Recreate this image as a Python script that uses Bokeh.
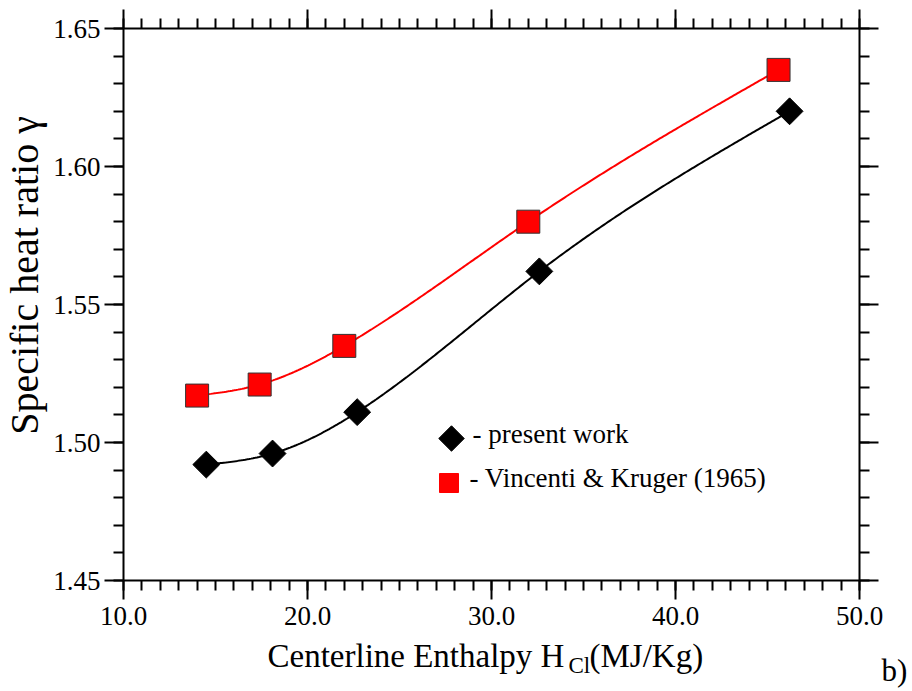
import math
import numpy as np
from bokeh.plotting import figure
from bokeh.models import Range1d, LinearAxis, FixedTicker, PrintfTickFormatter
from bokeh.core.properties import value
from bokeh.embed import file_html
from bokeh.resources import INLINE

# ---- data ----
present_h = [14.5, 18.1, 22.7, 32.6, 46.2]
present_gamma = [1.492, 1.496, 1.511, 1.562, 1.620]
vk_h = [14.0, 17.4, 22.0, 32.0, 45.6]
vk_gamma = [1.517, 1.521, 1.535, 1.580, 1.635]

x_major = [10.0, 20.0, 30.0, 40.0, 50.0]
x_minor = [float(v) for v in range(10, 51)]
y_major = [1.45, 1.50, 1.55, 1.60, 1.65]
y_minor = [round(1.45 + 0.01 * i, 2) for i in range(21)]

x_title = ["Centerline Enthalpy H", "Cl", "(MJ/Kg)"]
y_title = "Specific heat ratio γ"
legend_labels = ["- present work", "- Vincenti & Kruger (1965)"]
panel_tag = "b)"

SERIF = "Liberation Serif"
W, H = 912, 691
# plot box in canvas pixels
BOX_L, BOX_R, BOX_T, BOX_B = 123, 859, 28, 580
X0, X1, Y0, Y1 = 10.0, 50.0, 1.45, 1.65
KX = (BOX_R - BOX_L) / (X1 - X0)
KY = (BOX_B - BOX_T) / (Y1 - Y0)
SHIFT = 12  # baseline correction of the text glyph, px


def px_x(px):
    return X0 + (px - BOX_L) / KX


def px_y(py):
    return Y1 - (py - BOX_T) / KY


def smooth(x, y, n=300):
    """Natural cubic spline drawn through the data points (for the smooth line)."""
    x = np.asarray(x, float)
    y = np.asarray(y, float)
    k = len(x)
    h = np.diff(x)
    A = np.zeros((k, k))
    b = np.zeros(k)
    A[0, 0] = 1.0
    A[-1, -1] = 1.0
    for i in range(1, k - 1):
        A[i, i - 1] = h[i - 1]
        A[i, i] = 2 * (h[i - 1] + h[i])
        A[i, i + 1] = h[i]
        b[i] = 6 * ((y[i + 1] - y[i]) / h[i] - (y[i] - y[i - 1]) / h[i - 1])
    M = np.linalg.solve(A, b)
    xs = np.linspace(x[0], x[-1], n)
    idx = np.clip(np.searchsorted(x, xs) - 1, 0, k - 2)
    x0 = x[idx]
    x1 = x[idx + 1]
    hh = x1 - x0
    a = (x1 - xs) / hh
    bb = (xs - x0) / hh
    ys = a * y[idx] + bb * y[idx + 1] + ((a ** 3 - a) * M[idx] + (bb ** 3 - bb) * M[idx + 1]) * hh ** 2 / 6
    return xs, ys


# The frame spans the whole canvas; the four axes sit at fixed data locations
p = figure(width=W, height=H,
           x_range=Range1d(px_x(0), px_x(W)), y_range=Range1d(px_y(H), px_y(0)),
           output_backend="svg", toolbar_location=None,
           x_axis_type=None, y_axis_type=None)
p.outline_line_color = None
p.xgrid.visible = False
p.ygrid.visible = False
p.background_fill_color = "white"
p.border_fill_color = "white"
p.min_border = 0


def make_axis(ticks, minor, fmt, loc, bounds, show_labels, standoff):
    ax = LinearAxis(fixed_location=loc, bounds=bounds)
    ax.ticker = FixedTicker(ticks=ticks, minor_ticks=minor)
    ax.formatter = PrintfTickFormatter(format=fmt)
    ax.axis_line_color = "black"
    ax.axis_line_width = 2
    ax.major_tick_line_color = "black"
    ax.major_tick_line_width = 2
    ax.minor_tick_line_color = "black"
    ax.minor_tick_line_width = 2
    ax.major_tick_out = 19
    ax.major_tick_in = 0
    ax.minor_tick_out = 10
    ax.minor_tick_in = 0
    ax.major_label_text_font = SERIF
    ax.major_label_standoff = standoff
    if show_labels:
        ax.major_label_text_font_size = "27px"
        ax.major_label_text_color = "black"
    else:
        ax.major_label_text_font_size = "0px"
        ax.major_label_text_color = None
    return ax


p.add_layout(make_axis(x_major, x_minor, "%.1f", Y0, (X0, X1), True, 7), "below")
p.add_layout(make_axis(y_major, y_minor, "%.2f", X0, (Y0, Y1), True, 4), "left")
p.add_layout(make_axis(x_major, x_minor, "%.1f", Y1, (X0, X1), False, 0), "above")
p.add_layout(make_axis(y_major, y_minor, "%.2f", X1, (Y0, Y1), False, 0), "right")

# smooth curves
sx, sy = smooth(vk_h, vk_gamma)
p.line(sx, sy, line_color="#ff0000", line_width=2)
bx, by = smooth(present_h, present_gamma)
p.line(bx, by, line_color="black", line_width=2)

# markers
p.scatter(vk_h, vk_gamma, marker="square", size=23,
          fill_color="#ff0000", line_color="#333333", line_width=1)
p.scatter(present_h, present_gamma, marker="square", angle=math.pi / 4, size=19,
          fill_color="black", line_color="black", line_width=1)

# manual legend
p.scatter([px_x(451)], [px_y(438)], marker="square", angle=math.pi / 4, size=18,
          fill_color="black", line_color="black")
p.scatter([px_x(448.5)], [px_y(482.5)], marker="square", size=19,
          fill_color="#ff0000", line_color="#ff0000")
p.text(x=[px_x(472), px_x(469)], y=[px_y(445 - SHIFT), px_y(489 - SHIFT)], text=legend_labels,
       text_font=value(SERIF), text_font_size=value("27px"), text_color="black",
       text_align="left", text_baseline="alphabetic")

# axis titles and panel tag
p.text(x=[px_x(267), px_x(589)], y=[px_y(667 - SHIFT), px_y(667 - SHIFT)],
       text=[x_title[0], x_title[2]],
       text_font=value(SERIF), text_font_size=value("33px"), text_color="black",
       text_align="left", text_baseline="alphabetic")
p.text(x=[px_x(568)], y=[px_y(677 - SHIFT)], text=[x_title[1]],
       text_font=value(SERIF), text_font_size=value("23px"), text_color="black",
       text_align="left", text_baseline="alphabetic")
p.text(x=[px_x(37 - SHIFT - 1)], y=[px_y(275)], text=[y_title], angle=math.pi / 2,
       text_font=value(SERIF), text_font_size=value("40px"), text_color="black",
       text_align="center", text_baseline="alphabetic")
p.text(x=[px_x(881)], y=[px_y(682 - SHIFT)], text=[panel_tag],
       text_font=value(SERIF), text_font_size=value("31px"), text_color="black",
       text_align="left", text_baseline="alphabetic")

open("out.html", "w").write(file_html(p, INLINE))
